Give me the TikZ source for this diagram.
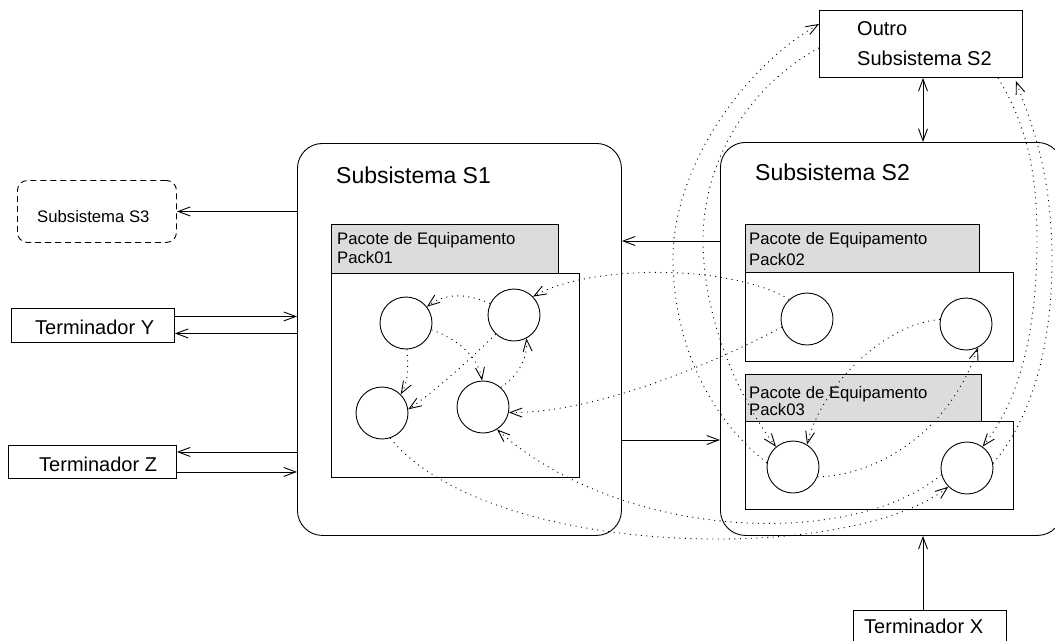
\documentclass[tikz,border=0pt]{standalone}
\usepackage{fontspec}
\setmainfont{Liberation Sans}
\usetikzlibrary{arrows.meta}
\definecolor{hdrgray}{RGB}{220,220,220}
\newcommand\fbig{\fontsize{23}{27}\selectfont}
\newcommand\fmid{\fontsize{20}{24}\selectfont}
\newcommand\fsmall{\fontsize{16.7}{20}\selectfont}
\tikzset{
  box/.style={draw, line width=0.9pt, inner sep=0pt, anchor=north west},
  hdr/.style={box, fill=hdrgray, line width=1.1pt},
  pbody/.style={box, line width=1.3pt},
  unit/.style={draw, circle, line width=0.9pt, minimum size=52pt, inner sep=0pt},
  lbl/.style={anchor=base west, inner sep=0pt},
  tip/.tip={Straight Barb[length=12pt,width=9pt,line width=0.9pt]},
  arr/.style={line width=0.8pt, -tip},
  darr/.style={line width=0.8pt, tip-tip},
  flow/.style={line width=0.9pt, dash pattern=on 1pt off 4.5pt, -tip},
}
\begin{document}
\begin{tikzpicture}[x=1pt,y=-1pt]
\useasboundingbox (0,0) rectangle (1055,640);
\clip (0,0) rectangle (1055,640);

% subsystems and external entities
\node[box, rounded corners=25pt, minimum width=324pt, minimum height=392pt] (s1) at (297,143) {};
\node[box, rounded corners=25pt, minimum width=342pt, minimum height=393pt] (s2) at (720,142) {};
\node[box, dash pattern=on 6pt off 4pt, rounded corners=10pt, minimum width=159pt, minimum height=62pt] (s3) at (17,180) {};
\node[box, minimum width=163pt, minimum height=34pt] (ty) at (11,308) {};
\node[box, minimum width=168pt, minimum height=33pt] (tz) at (8,445) {};
\node[box, minimum width=153pt, minimum height=40pt] (tx) at (853,610) {};
\node[box, minimum width=203pt, minimum height=67pt] (outro) at (819,10) {};

% equipment packages
\node[hdr, minimum width=227pt, minimum height=49pt] (p1h) at (331,224) {};
\node[pbody, minimum width=248pt, minimum height=204pt] (p1b) at (331,273) {};
\node[hdr, minimum width=234pt, minimum height=48pt] (p2h) at (745,224) {};
\node[pbody, minimum width=268pt, minimum height=89pt] (p2b) at (745,272) {};
\node[hdr, minimum width=236pt, minimum height=47pt] (p3h) at (745,374) {};
\node[pbody, minimum width=268pt, minimum height=88pt] (p3b) at (745,421) {};

% labels
\node[lbl, font=\fbig] (s1t) at (336,183) {Subsistema S1};
\node[lbl, font=\fbig] (s2t) at (755,180) {Subsistema S2};
\node[lbl, font=\fsmall] (s3t) at (37,222) {Subsistema S3};
\node[lbl, font=\fmid] (tyt) at (35,334) {Terminador Y};
\node[lbl, font=\fmid] (tzt) at (39,471) {Terminador Z};
\node[lbl, font=\fmid] (txt) at (864,633) {Terminador X};
\node[lbl, font=\fmid] (o1) at (857,35) {Outro};
\node[lbl, font=\fmid] (o2) at (857,65) {Subsistema S2};
\node[lbl, font=\fsmall] (p1a) at (337,244) {Pacote de Equipamento};
\node[lbl, font=\fsmall] (p1n) at (337,263) {Pack01};
\node[lbl, font=\fsmall] (p2a) at (749,244) {Pacote de Equipamento};
\node[lbl, font=\fsmall] (p2n) at (749,265) {Pack02};
\node[lbl, font=\fsmall] (p3a) at (749,398) {Pacote de Equipamento};
\node[lbl, font=\fsmall] (p3n) at (749,415) {Pack03};

% processing units
\node[unit] (c1) at (406,323) {};
\node[unit] (c2) at (514,315) {};
\node[unit] (c3) at (382,413) {};
\node[unit] (c4) at (483,407) {};
\node[unit] (c5) at (807,319) {};
\node[unit] (c6) at (966,324) {};
\node[unit] (c7) at (793,467) {};
\node[unit] (c8) at (967,468) {};

% solid interfaces
\draw[arr] (s3.east -| s1.west) -- (s3.east);
\coordinate (tyA) at ([yshift=9pt]ty.east);
\coordinate (tyB) at ([yshift=-8pt]ty.east);
\draw[arr] (tyA) -- (tyA -| s1.west);
\draw[arr] (tyB -| s1.west) -- (tyB);
\coordinate (tzA) at ([yshift=10pt]tz.east);
\coordinate (tzB) at ([yshift=-10pt]tz.east);
\draw[arr] (tzA -| s1.west) -- (tzA);
\draw[arr] (tzB) -- (tzB -| s1.west);
\coordinate (k1) at (0,241);
\coordinate (k2) at (0,440);
\draw[arr] (s2.west |- k1) -- (s1.east |- k1);
\draw[arr] (s1.east |- k2) -- (s2.west |- k2);
\coordinate (vx) at (923,0);
\draw[darr] (outro.south -| vx) -- (s2.north -| vx);
\draw[arr] (tx.north -| vx) -- (s2.south -| vx);

% flows inside Pack01
\draw[flow] (c2.154) .. controls (465,293) and (445,293) .. (c1.38);
\draw[flow] (c1.-15) .. controls (455,338) and (478,355) .. (c4.92);
\draw[flow] (c1.-88) .. controls (408,365) and (409,380) .. (c3.45);
\draw[flow] (c4.48) .. controls (520,375) and (528,355) .. (c2.-62);
\draw[flow] (c2.-134) .. controls (470,360) and (430,395) .. (c3.8);

% flows between packages
\draw[flow] (c5.132) .. controls (730,264) and (590,264) .. (c2.44);
\draw[flow] (c5.-162) .. controls (720,360) and (600,413) .. (c4.-12);
\draw[flow] (c3.-72) .. controls (490,560) and (850,565) .. (c8.-135);
\draw[flow] (c8.-165) .. controls (850,550) and (620,540) .. (c4.-58);
\draw[flow] (c7.-22) .. controls (880,475) and (950,430) .. (c6.-63);
\draw[flow] (c6.170) .. controls (880,325) and (820,390) .. (c7.58);

% flows to and from the other S2 subsystem
\coordinate (oL1) at ([yshift=20pt]outro.west);
\coordinate (oL2) at ([yshift=-4pt]outro.west);
\coordinate (oB1) at ([xshift=-25pt]outro.south east);
\coordinate (oB2) at ([xshift=-7pt,yshift=-3pt]outro.south east);
\draw[flow] (c7.171) .. controls (700,410) and (673,330) .. (673,258)
   .. controls (673,170) and (740,70) .. (oL1);
\draw[flow] (oL2) .. controls (750,85) and (703,160) .. (703,240)
   .. controls (703,320) and (740,400) .. (c7.130);
\draw[flow] (oB1) .. controls (1030,130) and (1037,180) .. (1037,240)
   .. controls (1037,330) and (1020,400) .. (c8.54);
\draw[flow] (c8.10) .. controls (1030,420) and (1052,350) .. (1052,260)
   .. controls (1052,170) and (1030,120) .. (oB2);
\end{tikzpicture}
\end{document}
